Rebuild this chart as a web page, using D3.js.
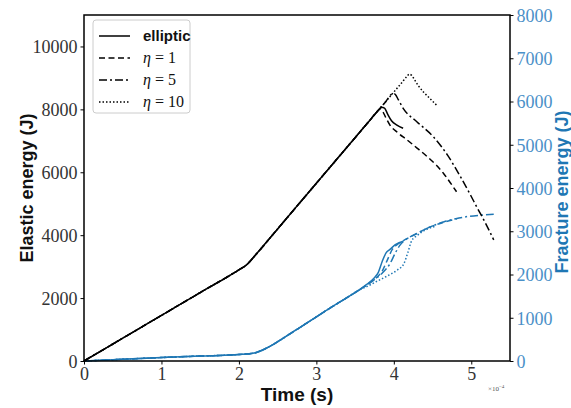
<!DOCTYPE html>
<html>
<head>
<meta charset="utf-8">
<script src="https://cdn.jsdelivr.net/npm/d3@7"></script>
<style>
html,body{margin:0;padding:0;background:#fff;}
svg{display:block;}
</style>
</head>
<body>
<svg id="chart" width="571" height="408"></svg>
<script>
// ---- data (time in units of 1e-4 s) ----
const xTicks = [0, 1, 2, 3, 4, 5];
const yLeftTicks = [0, 2000, 4000, 6000, 8000, 10000];
const yRightTicks = [0, 1000, 2000, 3000, 4000, 5000, 6000, 7000, 8000];
const seriesNames = ["elliptic", "η = 1", "η = 5", "η = 10"];

const elasticBase = [[0,0],[0.5,725],[1,1450],[1.5,2175],[2.0,2900],[2.1,3060],[2.2,3330],[2.5,4200],[3.0,5650],[3.5,7100],[3.7,7680],[3.8,7970]];
const elasticElliptic = [[3.84,8070],[3.88,8040],[3.92,7850],[3.97,7640],[4.04,7500],[4.12,7400]];
const elasticEta1 = [[3.83,8020],[3.86,7920],[3.9,7720],[3.95,7500],[4.05,7260],[4.17,7030],[4.3,6770],[4.43,6500],[4.55,6220],[4.64,5970],[4.72,5700],[4.81,5380]];
const elasticEta5 = [[3.9,8260],[3.96,8460],[3.99,8510],[4.02,8470],[4.06,8300],[4.13,8000],[4.3,7600],[4.51,7130],[4.7,6520],[4.86,5860],[5.0,5230],[5.07,4900],[5.18,4400],[5.29,3850]];
const elasticEta10 = [[4.0,8550],[4.1,8840],[4.17,9050],[4.2,9120],[4.23,9080],[4.27,8930],[4.32,8740],[4.38,8560],[4.46,8360],[4.55,8140]];

const fractureBase = [[0,0],[0.5,40],[1,80],[1.5,115],[2.0,150],[2.2,185],[2.3,250],[2.4,340],[2.6,560],[2.8,790],[3.0,1020],[3.2,1250],[3.4,1470],[3.55,1640]];
const fractureElliptic = [[3.65,1770],[3.74,1910],[3.8,2050],[3.85,2300],[3.9,2500],[3.95,2580],[4.02,2690],[4.12,2770]];
const fractureEta1 = [[3.65,1760],[3.75,1890],[3.85,2080],[3.92,2350],[3.98,2580],[4.05,2700],[4.15,2810],[4.3,2950],[4.47,3100],[4.65,3210],[4.81,3280]];
const fractureEta5 = [[3.65,1750],[3.75,1880],[3.85,2030],[3.95,2250],[4.02,2500],[4.08,2680],[4.15,2800],[4.3,2950],[4.47,3100],[4.65,3220],[4.8,3290],[4.95,3340],[5.14,3375],[5.29,3395]];
const fractureEta10 = [[3.65,1720],[3.8,1860],[3.95,2000],[4.05,2110],[4.13,2250],[4.18,2500],[4.23,2780],[4.3,2900],[4.42,3040],[4.55,3120]];

const dashes = [null, "6,3.5", "8,3,2,3", "1.5,2"];
const elasticSeries = [elasticElliptic, elasticEta1, elasticEta5, elasticEta10].map(s => elasticBase.concat(s));
const fractureSeries = [fractureElliptic, fractureEta1, fractureEta5, fractureEta10].map(s => fractureBase.concat(s));

// ---- layout ----
const svg = d3.select("#chart");
const L = 84, R = 510, T = 15, B = 361;
const x = d3.scaleLinear().domain([0, 5.5]).range([L, R]);
const yL = d3.scaleLinear().domain([0, 11000]).range([B, T]);
const yR = d3.scaleLinear().domain([0, 8000]).range([B, T]);
const blue = "#1f77b4";
const serif = "'Liberation Serif','Times New Roman',serif";
const sans = "'Liberation Sans',Arial,sans-serif";

const lineL = d3.line().x(d => x(d[0])).y(d => yL(d[1])).curve(d3.curveMonotoneX);
const lineR = d3.line().x(d => x(d[0])).y(d => yR(d[1])).curve(d3.curveMonotoneX);

// fracture (blue)
fractureSeries.forEach((s, i) => {
  svg.append("path").attr("d", lineR(s)).attr("fill", "none")
    .attr("stroke", blue).attr("stroke-width", 1.5)
    .attr("stroke-dasharray", dashes[i]);
});
// elastic (black)
elasticSeries.forEach((s, i) => {
  svg.append("path").attr("d", lineL(s)).attr("fill", "none")
    .attr("stroke", "#000").attr("stroke-width", 1.5)
    .attr("stroke-dasharray", dashes[i]);
});

// axes
function styleAxis(g, color) {
  g.select(".domain").remove();
  g.selectAll(".tick line").attr("stroke", "#000").attr("stroke-width", 1);
  g.selectAll(".tick text").attr("font-family", serif).attr("font-size", 18).attr("fill", color);
}
const gx = svg.append("g").attr("transform", `translate(0,${B})`)
  .call(d3.axisBottom(x).tickValues(xTicks).tickFormat(d3.format("d")).tickSize(3.5).tickPadding(3));
styleAxis(gx, "#333");
const gyl = svg.append("g").attr("transform", `translate(${L},0)`)
  .call(d3.axisLeft(yL).tickValues(yLeftTicks).tickFormat(d3.format("d")).tickSize(3.5).tickPadding(3));
styleAxis(gyl, "#333");
gyl.selectAll(".tick text").attr("dy", "0.36em");
const gyr = svg.append("g").attr("transform", `translate(${R},0)`)
  .call(d3.axisRight(yR).tickValues(yRightTicks).tickFormat(d3.format("d")).tickSize(3.5).tickPadding(3));
styleAxis(gyr, "#4a90c8");
gyr.selectAll(".tick text").attr("dy", "0.36em");

// frame
svg.append("rect").attr("x", L).attr("y", T).attr("width", R - L).attr("height", B - T)
  .attr("fill", "none").attr("stroke", "#000").attr("stroke-width", 1.5);

// axis labels
svg.append("text").attr("transform", `translate(33,${(T + B) / 2}) rotate(-90)`)
  .attr("text-anchor", "middle").attr("font-family", sans).attr("font-weight", "bold")
  .attr("font-size", 18).attr("fill", "#111").text("Elastic energy (J)");
svg.append("text").attr("transform", `translate(568,${(T + B) / 2 + 4}) rotate(-90)`)
  .attr("text-anchor", "middle").attr("font-family", sans).attr("font-weight", "bold")
  .attr("font-size", 18).attr("fill", blue).text("Fracture energy (J)");
svg.append("text").attr("x", (L + R) / 2).attr("y", 401)
  .attr("text-anchor", "middle").attr("font-family", sans).attr("font-weight", "bold")
  .attr("font-size", 19).attr("fill", "#111").text("Time (s)");
const mult = svg.append("text").attr("x", 488).attr("y", 391)
  .attr("font-family", serif).attr("font-size", 7).attr("fill", "#555");
mult.append("tspan").text("×10");
mult.append("tspan").attr("dy", -3).attr("font-size", 5).text("−4");

// legend
const lg = svg.append("g");
lg.append("rect").attr("x", 93).attr("y", 20).attr("width", 97).attr("height", 93)
  .attr("rx", 3).attr("fill", "#fff").attr("fill-opacity", 0.8)
  .attr("stroke", "#ccc").attr("stroke-width", 1);
seriesNames.forEach((name, i) => {
  const yy = 36 + i * 22;
  lg.append("line").attr("x1", 99).attr("x2", 130).attr("y1", yy).attr("y2", yy)
    .attr("stroke", "#000").attr("stroke-width", 1.5).attr("stroke-dasharray", dashes[i]);
  if (i === 0) {
    lg.append("text").attr("x", 143).attr("y", yy + 5).attr("font-family", sans)
      .attr("font-weight", "bold").attr("font-size", 15).attr("fill", "#111").text(name);
  } else {
    const parts = name.split(" = ");
    const t = lg.append("text").attr("x", 143).attr("y", yy + 5).attr("font-family", serif)
      .attr("font-size", 16).attr("fill", "#111");
    t.append("tspan").attr("font-style", "italic").text(parts[0]);
    t.append("tspan").text(" = " + parts[1]);
  }
});
</script>
</body>
</html>
